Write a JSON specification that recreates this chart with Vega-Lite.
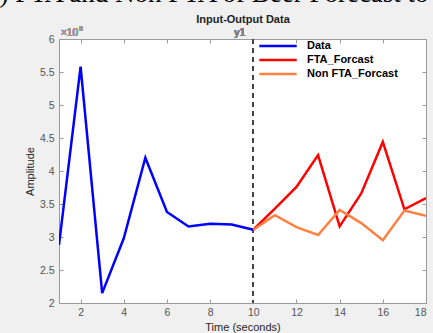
{
  "$schema": "https://vega.github.io/schema/vega-lite/v6.json",
  "width": 367,
  "height": 264,
  "autosize": {"type": "none"},
  "padding": {"left": 59, "top": 39, "right": 7, "bottom": 30},
  "background": "#f0f0f0",
  "title": {
    "text": "(b) FTA and Non FTA of Beer Forecast to",
    "anchor": "start",
    "frame": "group",
    "dx": -82,
    "offset": 0,
    "dy": 15,
    "baseline": "alphabetic",
    "font": "Liberation Serif",
    "fontSize": 27,
    "fontWeight": "normal",
    "color": "#000000"
  },
  "config": {
    "font": "Liberation Sans",
    "view": {"fill": "#ffffff", "stroke": null},
    "axis": {
      "grid": false,
      "domainColor": "#9a9a9a",
      "tickColor": "#9a9a9a",
      "labelColor": "#555555",
      "labelFontSize": 10.5,
      "titleColor": "#262626",
      "titleFontWeight": "normal",
      "titleFontSize": 11,
      "tickSize": -4
    }
  },
  "data": {
    "values": [
      {"t": 1, "value": 2880000, "series": "Data"},
      {"t": 2, "value": 5580000, "series": "Data"},
      {"t": 3, "value": 2150000, "series": "Data"},
      {"t": 4, "value": 2980000, "series": "Data"},
      {"t": 5, "value": 4200000, "series": "Data"},
      {"t": 6, "value": 3380000, "series": "Data"},
      {"t": 7, "value": 3160000, "series": "Data"},
      {"t": 8, "value": 3200000, "series": "Data"},
      {"t": 9, "value": 3190000, "series": "Data"},
      {"t": 10, "value": 3110000, "series": "Data"},
      {"t": 10, "value": 3110000, "series": "FTA_Forcast"},
      {"t": 11, "value": 3430000, "series": "FTA_Forcast"},
      {"t": 12, "value": 3760000, "series": "FTA_Forcast"},
      {"t": 13, "value": 4240000, "series": "FTA_Forcast"},
      {"t": 14, "value": 3160000, "series": "FTA_Forcast"},
      {"t": 15, "value": 3660000, "series": "FTA_Forcast"},
      {"t": 16, "value": 4440000, "series": "FTA_Forcast"},
      {"t": 17, "value": 3420000, "series": "FTA_Forcast"},
      {"t": 18, "value": 3590000, "series": "FTA_Forcast"},
      {"t": 10, "value": 3110000, "series": "Non FTA_Forcast"},
      {"t": 11, "value": 3330000, "series": "Non FTA_Forcast"},
      {"t": 12, "value": 3150000, "series": "Non FTA_Forcast"},
      {"t": 13, "value": 3030000, "series": "Non FTA_Forcast"},
      {"t": 14, "value": 3410000, "series": "Non FTA_Forcast"},
      {"t": 15, "value": 3210000, "series": "Non FTA_Forcast"},
      {"t": 16, "value": 2950000, "series": "Non FTA_Forcast"},
      {"t": 17, "value": 3400000, "series": "Non FTA_Forcast"},
      {"t": 18, "value": 3320000, "series": "Non FTA_Forcast"}
    ]
  },
  "layer": [
    {
      "mark": {"type": "rule", "color": "#444444", "strokeDash": [5, 4], "strokeWidth": 1.3},
      "encoding": {
        "x": {
          "datum": 10,
          "type": "quantitative",
          "scale": {"domain": [1, 18], "nice": false, "zero": false},
          "axis": {
            "orient": "top",
            "labels": false,
            "values": [2, 4, 6, 8, 10, 12, 14, 16, 18],
            "title": "Input-Output Data",
            "titleFontWeight": "bold",
            "titleFontSize": 11,
            "titleColor": "#222222",
            "titlePadding": 14
          }
        }
      }
    },
    {
      "mark": {"type": "line", "strokeWidth": 2.5, "clip": true},
      "encoding": {
        "x": {
          "field": "t",
          "type": "quantitative",
          "scale": {"domain": [1, 18], "nice": false, "zero": false},
          "axis": {
            "orient": "bottom",
            "values": [2, 4, 6, 8, 10, 12, 14, 16, 18],
            "title": "Time (seconds)",
            "labelPadding": 8,
            "titlePadding": 4
          }
        },
        "y": {
          "field": "value",
          "type": "quantitative",
          "scale": {"domain": [2000000, 6000000], "nice": false, "zero": false},
          "axis": {
            "orient": "left",
            "values": [2000000, 2500000, 3000000, 3500000, 4000000, 4500000, 5000000, 5500000, 6000000],
            "labelExpr": "format(datum.value / 1000000, '~g')",
            "title": "Amplitude",
            "labelPadding": 9,
            "titlePadding": 4
          }
        },
        "color": {
          "field": "series",
          "type": "nominal",
          "scale": {"domain": ["Data", "FTA_Forcast", "Non FTA_Forcast"], "range": ["#0000ff", "#ff0000", "#ff8040"]},
          "legend": {
            "title": null,
            "orient": "none",
            "legendX": 199,
            "legendY": 1,
            "symbolType": "stroke",
            "symbolSize": 1400,
            "symbolStrokeWidth": 2.5,
            "clipHeight": 12,
            "labelFontWeight": "bold",
            "labelFontSize": 11,
            "labelColor": "#000000",
            "labelOffset": 9,
            "rowPadding": 2,
            "fillColor": null
          }
        }
      }
    },
    {
      "mark": {"type": "text", "text": "y1", "align": "right", "baseline": "alphabetic", "dx": -8, "dy": -3, "fontSize": 10.5, "fontWeight": "normal", "color": "#808080"},
      "encoding": {
        "x": {"datum": 10, "type": "quantitative", "axis": null},
        "y": {
          "datum": 6000000,
          "type": "quantitative",
          "axis": {
            "orient": "right",
            "labels": false,
            "title": null,
            "values": [2000000, 2500000, 3000000, 3500000, 4000000, 4500000, 5000000, 5500000, 6000000]
          }
        }
      }
    },
    {
      "mark": {"type": "text", "text": "×10", "align": "left", "baseline": "alphabetic", "dx": 2, "dy": -3, "fontSize": 10, "fontWeight": "normal", "color": "#999999"},
      "encoding": {
        "x": {"datum": 1, "type": "quantitative", "axis": null},
        "y": {"datum": 6000000, "type": "quantitative", "axis": null}
      }
    },
    {
      "mark": {"type": "text", "text": "6", "align": "left", "baseline": "alphabetic", "dx": 20, "dy": -8, "fontSize": 7, "fontWeight": "normal", "color": "#999999"},
      "encoding": {
        "x": {"datum": 1, "type": "quantitative", "axis": null},
        "y": {"datum": 6000000, "type": "quantitative", "axis": null}
      }
    }
  ],
  "resolve": {"axis": {"x": "independent", "y": "independent"}}
}
